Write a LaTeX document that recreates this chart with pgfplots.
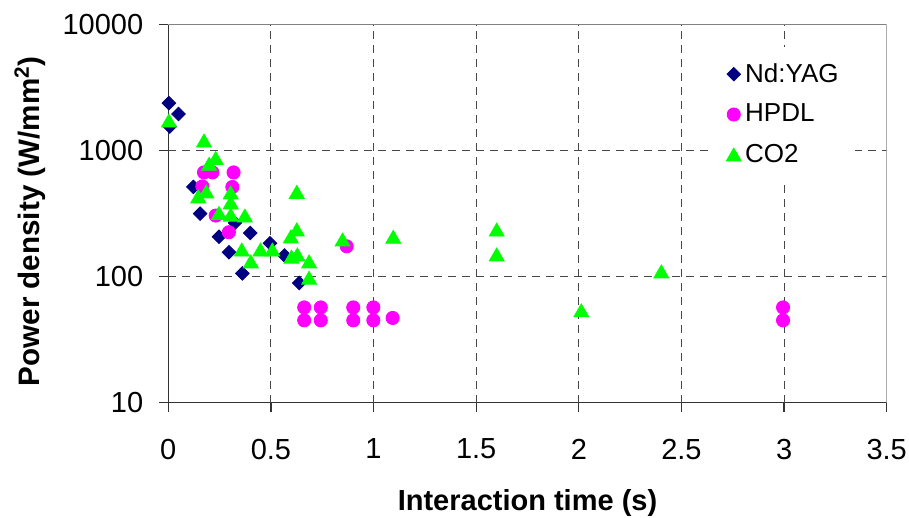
\documentclass[border=0pt]{standalone}
\usepackage{fontspec}
\setmainfont{Liberation Sans}
\usepackage{pgfplots}
\pgfplotsset{compat=1.18}
\definecolor{ndyag}{RGB}{0,0,128}
\definecolor{hpdl}{RGB}{255,0,255}
\definecolor{cotwo}{RGB}{0,255,0}
\definecolor{gridgray}{RGB}{70,70,70}
\definecolor{framegray}{RGB}{128,128,128}

\begin{document}
\begin{tikzpicture}
\useasboundingbox (-84.15pt,-57.65pt) rectangle (370.35pt,201.35pt);
\begin{axis}[
  scale only axis, width=359.2pt, height=189.1pt,
  at={(0,0)}, anchor=south west,
  ymode=log, xmin=0, xmax=3.5, ymin=10, ymax=10000,
  axis x line*=bottom, axis y line*=left,
  x axis line style={-}, y axis line style={-},
  axis line style={black!80, line width=0.6pt},
  xtick={0,0.5,1,1.5,2,2.5,3,3.5},
  xticklabels={0,0.5,1,1.5,2,2.5,3,3.5},
  ytick={10,100,1000,10000},
  yticklabels={10,100,1000,10000},
  yminorticks=false,
  tick align=outside, major tick length=4.5pt,
  tick style={black!80, line width=0.6pt},
  ticklabel style={font=\fontsize{14.5}{14.5}\selectfont},
  xticklabel style={yshift=-10pt},
  yticklabel style={xshift=-4.5pt},
  /pgf/number format/assume math mode=true,
  xlabel={Interaction time (s)},
  ylabel={Power density (W/mm\textsuperscript{2})},
  xlabel style={at={(axis description cs:0.5,-0.264)}, anchor=center,
    font=\bfseries\fontsize{14.5}{15}\selectfont},
  ylabel style={at={(axis description cs:-0.1925,0.48)}, anchor=center,
    font=\bfseries\fontsize{14.8}{15}\selectfont},
  legend style={at={(0.7595,0.941)}, anchor=north west, draw=none, fill=white,
    font=\fontsize{13}{13.5}\selectfont, row sep=5.5pt,
    inner xsep=6pt, inner ysep=6pt},
  legend cell align=left,
  legend image code/.code={\draw[mark repeat=2,mark phase=2,#1]
    plot coordinates {(0cm,0cm) (0.15cm,0cm) (0.3cm,0cm)};},
]
% dashed grid inside the frame
\foreach \gx in {0.5,1,1.5,2,2.5,3} {
  \edef\tmp{\noexpand\draw[gridgray, dash pattern=on 4pt off 3pt, line width=0.5pt]
    (axis cs:\gx,10) -- (axis cs:\gx,10000);}\tmp
}
\draw[gridgray, dash pattern=on 4pt off 3pt, line width=0.5pt]
  (axis cs:0,100) -- (axis cs:3.5,100);
\draw[gridgray, dash pattern=on 4pt off 3pt, line width=0.5pt]
  (axis cs:0,1000) -- (axis cs:3.5,1000);
% grey frame on top and right
\draw[framegray, line width=0.6pt]
  (rel axis cs:0,1) -- (rel axis cs:1,1) -- (rel axis cs:1,0);

\addplot[only marks, mark=square*, color=ndyag,
  mark options={rotate=45}, mark size=2.4pt] coordinates {
  (0.003,2380) (0.050,1950) (0.007,1550) (0.122,515) (0.155,316)
  (0.247,207) (0.296,156) (0.325,267) (0.399,222) (0.361,106)
  (0.495,184) (0.566,147) (0.638,89)
};
\addlegendentry{Nd:YAG}

\addplot[only marks, mark=*, color=hpdl, mark size=3.3pt] coordinates {
  (0.174,671) (0.215,671) (0.318,671) (0.166,520) (0.312,514)
  (0.231,305) (0.295,225) (0.869,174)
  (0.662,57) (0.662,45) (0.743,57) (0.743,45)
  (0.901,57) (0.901,45) (0.999,57) (0.999,45)
  (1.093,47) (2.995,57) (2.995,45)
};
\addlegendentry{HPDL}

\addplot[only marks, mark=triangle*, color=cotwo, mark size=4.3pt,
  mark options={yshift=-1.08pt}] coordinates {
  (0.003,1730) (0.174,1200) (0.231,873) (0.199,785) (0.146,433)
  (0.185,474) (0.304,465) (0.304,388) (0.247,320) (0.304,310)
  (0.373,305) (0.358,164) (0.402,132) (0.449,164) (0.507,164)
  (0.626,470) (0.626,237) (0.597,208) (0.600,144) (0.629,150)
  (0.686,132) (0.686,98) (0.849,197) (1.096,207) (1.600,236)
  (1.600,150) (2.402,110) (2.012,54)
};
\addlegendentry{CO2}
\end{axis}
\end{tikzpicture}
\end{document}
